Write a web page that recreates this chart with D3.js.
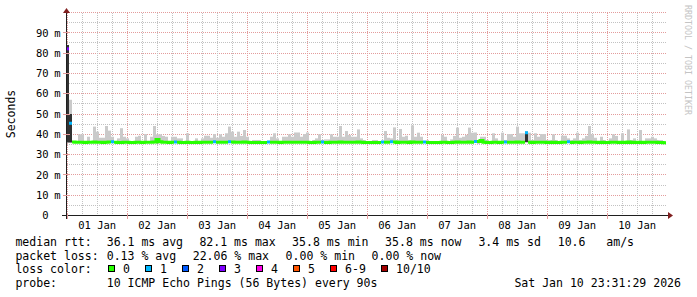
<!DOCTYPE html>
<html>
<head>
<meta charset="utf-8">
<script src="https://cdnjs.cloudflare.com/ajax/libs/d3/7.8.5/d3.min.js"></script>
<style>
    body { margin: 0; background: #fff; }
    svg text { font-family: "DejaVu Sans Mono", monospace; fill: #000; white-space: pre; }
</style>
</head>
<body>
<div id="chart"></div>
<script>
// 10 day window, one column every 72 min
var start = new Date(2025, 11, 31, 23, 31, 29);
var end = new Date(2026, 0, 10, 23, 31, 29);
var stepMs = 4320 * 1000;

// median rtt per column (ms)
var median = [
    82.1,45.4,36.2,36.1,36.1,36.1,36.0,36.1,36.1,36.2,36.1,36.1,36.0,36.1,36.2,36.3,36.1,36.0,36.0,36.1,
    36.1,36.0,36.0,36.1,36.1,36.0,36.1,36.1,36.1,36.2,37.4,36.3,36.1,36.1,36.0,36.1,36.2,36.1,36.0,36.0,
    36.1,36.0,36.0,36.1,36.0,36.1,36.1,36.1,36.1,36.3,36.1,36.1,36.1,36.1,36.3,36.2,36.1,36.1,36.1,36.2,
    36.1,36.0,36.0,36.0,36.0,36.0,36.0,36.2,36.1,36.1,36.1,36.0,36.1,36.1,36.1,36.1,36.1,36.1,36.1,36.1,
    36.1,36.0,36.0,36.1,36.1,36.2,36.0,36.0,36.1,36.1,36.1,36.2,36.1,36.1,36.1,36.1,36.1,36.2,36.1,36.0,
    36.0,36.0,36.0,36.0,36.0,36.2,36.1,36.1,36.3,36.2,36.0,36.1,36.1,36.1,36.0,36.2,36.1,36.1,36.1,36.2,
    36.0,36.0,36.0,36.0,36.0,36.1,36.1,36.0,36.0,36.1,36.2,36.1,36.1,36.1,36.2,36.1,36.4,36.5,37.0,36.1,
    36.0,36.0,36.1,36.1,36.0,36.1,36.2,36.1,36.1,36.1,36.2,36.1,36.1,40.8,36.1,36.0,36.1,36.1,36.1,36.1,
    36.0,36.0,36.1,36.0,36.0,36.1,36.1,36.3,36.0,36.1,36.1,36.0,36.1,36.1,36.2,36.1,36.1,36.0,36.1,36.0,
    36.0,36.1,36.1,36.1,36.0,36.1,36.0,36.2,36.0,36.1,36.0,36.1,36.0,36.1,36.1,36.1,36.1,36.0,36.0,35.8
];

// slowest ping per column (top of the smoke, ms)
var smokeMax = [
    84.0,57.0,36.5,36.5,40.0,40.0,36.5,38.8,36.5,43.8,41.3,38.3,38.3,44.1,41.8,38.8,36.5,38.0,43.0,38.8,
    38.0,36.5,36.5,38.8,39.3,36.5,40.1,36.5,38.8,44.1,40.0,40.0,39.2,38.8,36.5,38.8,38.8,38.0,38.0,36.5,
    40.5,36.5,36.5,38.0,36.5,38.0,39.3,39.3,38.3,40.1,38.3,40.0,38.8,40.5,43.8,41.3,38.8,41.3,39.2,42.1,
    38.8,36.5,37.2,37.2,37.2,36.5,36.5,36.5,38.8,40.5,38.0,36.5,38.8,38.8,40.0,38.8,40.9,40.9,38.8,40.1,
    40.9,36.5,37.2,38.0,40.0,37.2,37.5,37.5,40.0,38.8,38.8,44.1,38.8,41.6,39.7,38.8,38.8,42.4,38.0,37.2,
    36.5,36.5,37.2,37.2,36.5,36.5,41.6,38.3,38.0,43.4,37.2,42.6,38.8,39.3,37.2,44.4,38.8,40.8,38.8,36.5,
    37.2,36.5,36.5,36.5,36.5,39.7,38.8,36.5,37.5,39.2,43.3,38.3,38.8,39.7,43.3,40.8,40.9,37.2,38.8,38.8,
    37.2,36.5,40.5,38.0,36.5,40.8,37.2,40.1,40.1,38.8,43.8,40.5,40.5,41.5,40.8,37.2,40.5,38.8,40.1,40.1,
    37.2,37.2,40.0,37.2,36.5,39.3,39.3,38.0,37.2,38.0,40.8,37.2,38.0,39.2,44.1,40.0,38.3,36.5,38.8,37.2,
    36.5,38.0,40.0,39.2,36.5,40.5,36.5,42.4,37.2,38.0,36.5,42.1,36.5,38.0,38.0,38.8,38.0,37.2,37.2,36.5
];
var rttMin = 35.8;

// columns where the middle pings spread out (dark smoke)
var darkIdx = [0, 1, 30, 137, 153];
var darkLo = [36.0, 36.0, 35.6, 35.6, 36.2];
var darkHi = [84.0, 50.0, 36.8, 36.8, 41.2];

// columns with lost pings
var lossIdx = [0, 1, 15, 36, 49, 54, 67, 85, 105, 108, 119, 136, 146, 153, 167];
var lossPings = [3, 1, 1, 1, 1, 1, 1, 1, 1, 1, 1, 1, 1, 1, 1];

var lossColors = ['#26ff00', '#00b8ff', '#0059ff', '#7e00ff', '#ff00ea', '#ff5500', '#ff0000', '#a10000'];
var lossLabels = ['0', '1', '2', '3', '4', '5', '6-9', '10/10'];

var rttStats = ['36.1 ms avg', '82.1 ms max', '35.8 ms min', '35.8 ms now', '3.4 ms sd', '10.6   am/s'];
var lossStats = ['0.13 % avg', '22.06 % max', '0.00 % min', '0.00 % now'];
var probeText = '10 ICMP Echo Pings (56 Bytes) every 90s';
var stampText = 'Sat Jan 10 23:31:29 2026';

var width = 697, height = 297;
var gridCol = '#c2c2c2', mgridCol = '#e39c9c';

var svg = d3.select('#chart').append('svg')
    .attr('width', width)
    .attr('height', height);

var x = d3.scaleTime().domain([start, end]).range([66, 666]);
var y = d3.scaleLinear().domain([0, 100]).range([215.5, 12.5]);

function px(v) { return Math.floor(v) + 0.5; }
function colX(i) { return x(new Date(start.getTime() + i * stepMs)); }

// grid
var grid = svg.append('g').attr('stroke-dasharray', '1,1').attr('stroke-width', 1);

y.ticks(20).forEach(function (v) {
    if (v === 0) return;
    grid.append('line')
        .attr('x1', 67).attr('x2', 667)
        .attr('y1', px(y(v))).attr('y2', px(y(v)))
        .attr('stroke', v % 10 === 0 ? mgridCol : gridCol);
});

x.ticks(d3.timeHour.every(6)).forEach(function (t) {
    var major = t.getHours() === 0;
    grid.append('line')
        .attr('x1', px(x(t))).attr('x2', px(x(t)))
        .attr('y1', 13).attr('y2', 215)
        .attr('stroke', major ? mgridCol : gridCol);
});

// smoke
svg.append('g').selectAll('rect')
    .data(smokeMax)
    .enter().append('rect')
    .attr('x', function (d, i) { return colX(i); })
    .attr('width', function (d, i) { return colX(i + 1) - colX(i); })
    .attr('y', function (d) { return y(d); })
    .attr('height', function (d) { return y(rttMin) - y(d); })
    .attr('fill', '#cacaca');

svg.append('g').selectAll('rect')
    .data(darkIdx)
    .enter().append('rect')
    .attr('x', function (d) { return colX(d); })
    .attr('width', function (d) { return colX(d + 1) - colX(d); })
    .attr('y', function (d, j) { return y(darkHi[j]); })
    .attr('height', function (d, j) { return y(darkLo[j]) - y(darkHi[j]); })
    .attr('fill', '#323232');

// median line, coloured by loss
var lossAt = median.map(function () { return 0; });
lossIdx.forEach(function (c, j) { lossAt[c] = lossPings[j]; });

var pts = [];
median.forEach(function (m, i) {
    var p = lossAt[i];
    var k = p >= 10 ? 7 : (p >= 6 ? 6 : p);
    pts.push({x: colX(i), y: y(m), k: k});
    pts.push({x: colX(i + 1), y: y(m), k: k});
});

lossColors.forEach(function (c, k) {
    var line = d3.line()
        .defined(function (p) { return p.k === k; })
        .x(function (p) { return p.x; })
        .y(function (p) { return p.y; });
    svg.append('path')
        .attr('d', line(pts))
        .style('fill', 'none')
        .style('stroke', c)
        .attr('stroke-width', 3);
});

// axes
svg.append('line').attr('x1', 62).attr('x2', 669).attr('y1', 215.5).attr('y2', 215.5).attr('stroke', '#1f1f1f');
svg.append('line').attr('x1', 66.5).attr('x2', 66.5).attr('y1', 219).attr('y2', 12).attr('stroke', '#1f1f1f');
svg.append('path').attr('d', 'M668,212 L673,215.5 L668,219 Z').attr('fill', '#801f1f');
svg.append('path').attr('d', 'M63,13 L66.5,8 L70,13 Z').attr('fill', '#801f1f');

// major ticks
x.ticks(d3.timeDay).forEach(function (t) {
    svg.append('line')
        .attr('x1', px(x(t))).attr('x2', px(x(t)))
        .attr('y1', 213).attr('y2', 219)
        .attr('stroke', mgridCol);
});
y.ticks(10).forEach(function (v) {
    if (v === 0 || v === 100) return;
    svg.append('line')
        .attr('x1', 63).attr('x2', 70)
        .attr('y1', px(y(v))).attr('y2', px(y(v)))
        .attr('stroke', mgridCol);
});

// tick labels
var fmt = d3.timeFormat('%d %b');
x.ticks(d3.timeDay).forEach(function (t) {
    var noon = d3.timeHour.offset(t, 12);
    if (noon > end) return;
    svg.append('text')
        .attr('x', x(noon)).attr('y', 228.5)
        .attr('text-anchor', 'middle')
        .style('font-size', '10.5px')
        .text(fmt(noon));
});

y.ticks(10).forEach(function (v) {
    if (v === 100) return;
    svg.append('text')
        .attr('x', 48.6).attr('y', y(v))
        .attr('dy', '0.36em')
        .attr('text-anchor', 'end')
        .style('font-size', '10.5px')
        .text(v);
    if (v > 0) {
        svg.append('text')
            .attr('x', 54.3).attr('y', y(v))
            .attr('dy', '0.36em')
            .style('font-size', '10.5px')
            .text('m');
    }
});

svg.append('text')
    .attr('transform', 'translate(15,114) rotate(-90)')
    .attr('text-anchor', 'middle')
    .style('font-size', '11.5px')
    .text('Seconds');

svg.append('text')
    .attr('transform', 'translate(685,5) rotate(90)')
    .style('font-size', '8.3px')
    .style('fill', '#c4c4c4')
    .text('RRDTOOL / TOBI OETIKER');

// legend
var lf = '11.54px';
var rowY = [245.5, 259.5, 273, 287];

function legText(tx, ty, s) {
    return svg.append('text').attr('x', tx).attr('y', ty).style('font-size', lf).text(s);
}

legText(15.4, rowY[0], 'median rtt:');
[106.7, 199.4, 292.1, 385.1, 478.4, 557.7].forEach(function (lx, j) {
    legText(lx, rowY[0], rttStats[j]);
});

legText(15.4, rowY[1], 'packet loss:');
[106.7, 192.7, 285.6, 371.6].forEach(function (lx, j) {
    legText(lx, rowY[1], lossStats[j]);
});

legText(15.4, rowY[2], 'loss color:');
[108.5, 145.5, 182.5, 219.5, 256.5, 293.5, 330.5, 381.5].forEach(function (bx, j) {
    svg.append('rect')
        .attr('x', bx).attr('y', 265.5)
        .attr('width', 6).attr('height', 6)
        .attr('fill', lossColors[j])
        .attr('stroke', '#000');
    legText(bx + 14.5, rowY[2], lossLabels[j]);
});

legText(15.4, rowY[3], 'probe:');
legText(106.7, rowY[3], probeText);
legText(681, rowY[3], stampText).attr('text-anchor', 'end');
</script>
</body>
</html>
